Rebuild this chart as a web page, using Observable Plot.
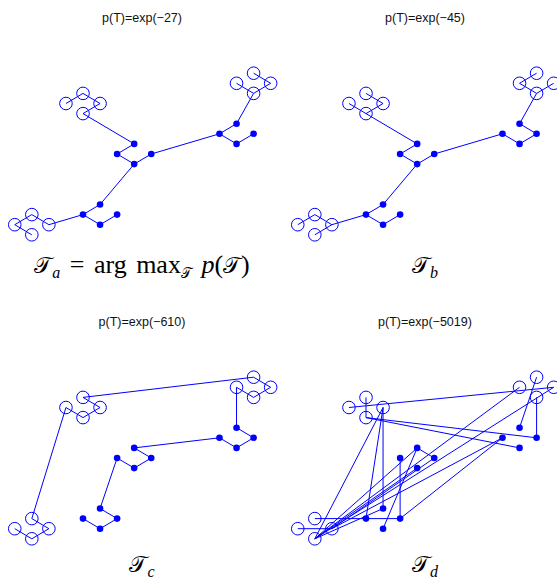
<!DOCTYPE html>
<html><head><meta charset="utf-8">
<script src="https://cdn.jsdelivr.net/npm/d3@7"></script>
<script src="https://cdn.jsdelivr.net/npm/@observablehq/plot@0.6"></script>
<style>
html,body{margin:0;padding:0;background:#fff;}
#root{position:relative;width:557px;height:582px;overflow:hidden;}
.panel{position:absolute;width:284px;height:300px;}
.title{position:absolute;left:0;width:284px;top:10px;text-align:center;font-family:"Liberation Sans",Arial,sans-serif;font-size:12.5px;line-height:16px;color:#111;}
.panel svg{position:absolute;left:0;top:40px;}
.label{position:absolute;left:0;width:284px;text-align:center;font-family:"Liberation Serif","DejaVu Serif",serif;font-size:26px;line-height:30px;color:#000;white-space:nowrap;}
.label.wide{word-spacing:3px;}
.label .cal{font-family:"DejaVu Serif",serif;font-size:23px;}
.label sub{font-size:16px;vertical-align:-5px;line-height:0;}
.label sub .cal{font-size:14px;}
.label i{font-style:italic;}
</style></head><body><div id="root"></div>
<script>
// ---- data ----
const nodeNames = ["TL_L","TL_T","TL_R","TL_B","TR_L","TR_T","TR_R","TR_B","BL_L","BL_T","BL_R","BL_B",
                   "C_T","C_L","C_R","C_B","E_T","E_L","E_R","E_B","S_T","S_L","S_R","S_B"];
const nodeCol  = [-1,0,1,0, 9,10,11,10, -4,-3,-2,-3, 3,2,4,3, 9,8,10,9, 1,0,2,1];
const nodeRow  = [-2,-3,-2,-1, -4,-5,-4,-3, 10,9,10,11, 2,3,3,4, 0,1,1,2, 8,9,9,10];
const nodeKind = ["o","o","o","o","o","o","o","o","o","o","o","o",
                  "•","•","•","•","•","•","•","•","•","•","•","•"];

const titles = ["p(T)=exp(\u221227)", "p(T)=exp(\u221245)", "p(T)=exp(\u2212610)", "p(T)=exp(\u22125019)"];
const labelLetters = ["a","b","c","d"];

const edgesA = [["TL_L","TL_T"],["TL_T","TL_R"],["TL_R","TL_B"],["TL_B","C_T"],
  ["C_T","C_L"],["C_L","C_B"],["C_B","C_R"],["C_R","E_L"],["S_T","C_B"],
  ["E_L","E_T"],["E_L","E_B"],["E_B","E_R"],["E_T","TR_B"],
  ["TR_T","TR_R"],["TR_R","TR_B"],["TR_L","TR_B"],
  ["S_L","S_T"],["S_L","S_B"],["S_B","S_R"],["BL_R","S_L"],
  ["BL_L","BL_T"],["BL_T","BL_R"],["BL_L","BL_B"]];
const edgesB = [["TL_L","TL_B"],["TL_T","TL_R"],["TL_R","TL_B"],["TL_B","C_T"],
  ["C_T","C_L"],["C_L","C_B"],["C_B","C_R"],["C_R","E_L"],["S_T","C_B"],
  ["E_L","E_B"],["E_B","E_R"],["E_R","E_T"],["E_T","TR_B"],
  ["TR_L","TR_T"],["TR_L","TR_B"],["TR_B","TR_R"],
  ["S_L","S_T"],["S_L","S_B"],["S_B","S_R"],["BL_R","S_L"],
  ["BL_L","BL_T"],["BL_T","BL_R"],["BL_B","BL_R"]];
const pathC = ["BL_L","BL_B","BL_R","BL_T","TL_L","TL_B","TL_R","TL_T","TR_T","TR_R","TR_B","TR_L",
  "E_T","E_R","E_B","E_L","C_T","C_R","C_B","C_L","S_T","S_R","S_B","S_L"];
const edgesD = [["TL_L","TR_R"],["TL_T","TL_B"],["TL_B","E_R"],["TL_B","E_B"],["E_R","TR_B"],
  ["E_T","TR_T"],["TL_R","S_T"],["TL_R","S_L"],["TL_R","BL_B"],["BL_T","S_L"],["S_L","S_R"],
  ["S_R","C_L"],["S_R","E_L"],["S_B","C_T"],["C_T","C_R"],["BL_B","TR_L"],["BL_B","C_B"],
  ["BL_B","S_T"],["BL_L","BL_R"],["BL_R","E_L"],["BL_B","TR_R"],["BL_B","C_T"],["BL_R","C_R"]];

// ---- build ----
const nodes = nodeNames.map((n, i) => ({name: n, col: nodeCol[i], row: nodeRow[i], kind: nodeKind[i]}));
const byName = new Map(nodes.map(d => [d.name, d]));
const edgesC = pathC.slice(1).map((n, i) => [pathC[i], n]);
const edgeSets = [edgesA, edgesB, edgesC, edgesD];

const layout = [{left:0, top:0, lab:250}, {left:283, top:0, lab:250}, {left:0, top:304, lab:245}, {left:283, top:304, lab:245}];
const unitX = 17.06, unitY = 10.1, ox = 82.5, oy = 83.2;
const blue = "#0000ff";
const cal = '<span class="cal">\u{1D4AF}</span>';

const root = document.getElementById("root");
edgeSets.forEach((edges, k) => {
  const links = edges.map(([a, b]) => ({x1: byName.get(a).col, y1: byName.get(a).row, x2: byName.get(b).col, y2: byName.get(b).row}));
  const panel = document.createElement("div");
  panel.className = "panel";
  panel.style.left = layout[k].left + "px";
  panel.style.top = layout[k].top + "px";
  const t = document.createElement("div");
  t.className = "title";
  t.textContent = titles[k];
  panel.appendChild(t);
  const chart = Plot.plot({
    width: 284, height: 220, margin: 0,
    x: {domain: [-5, 12], range: [ox - 5 * unitX, ox + 12 * unitX], axis: null},
    y: {domain: [-6, 13], range: [oy - 6 * unitY, oy + 13 * unitY], axis: null},
    style: {background: "transparent", overflow: "visible"},
    marks: [
      Plot.link(links, {x1: "x1", y1: "y1", x2: "x2", y2: "y2", stroke: blue, strokeWidth: 1}),
      Plot.dot(nodes.filter(d => d.kind === "o"), {x: "col", y: "row", r: 6.3, stroke: blue, fill: "none", strokeWidth: 1}),
      Plot.dot(nodes.filter(d => d.kind === "•"), {x: "col", y: "row", r: 3.3, fill: blue, stroke: "none"})
    ]
  });
  panel.appendChild(chart);
  const lab = document.createElement("div");
  lab.className = k === 0 ? "label wide" : "label";
  lab.style.top = layout[k].lab + "px";
  const L = labelLetters[k];
  lab.innerHTML = k === 0
    ? cal + '<sub><i>' + L + '</i></sub> = arg max<sub>' + cal + '</sub> <i>p</i>(' + cal + ')'
    : cal + '<sub><i>' + L + '</i></sub>';
  panel.appendChild(lab);
  root.appendChild(panel);
});
</script></body></html>
